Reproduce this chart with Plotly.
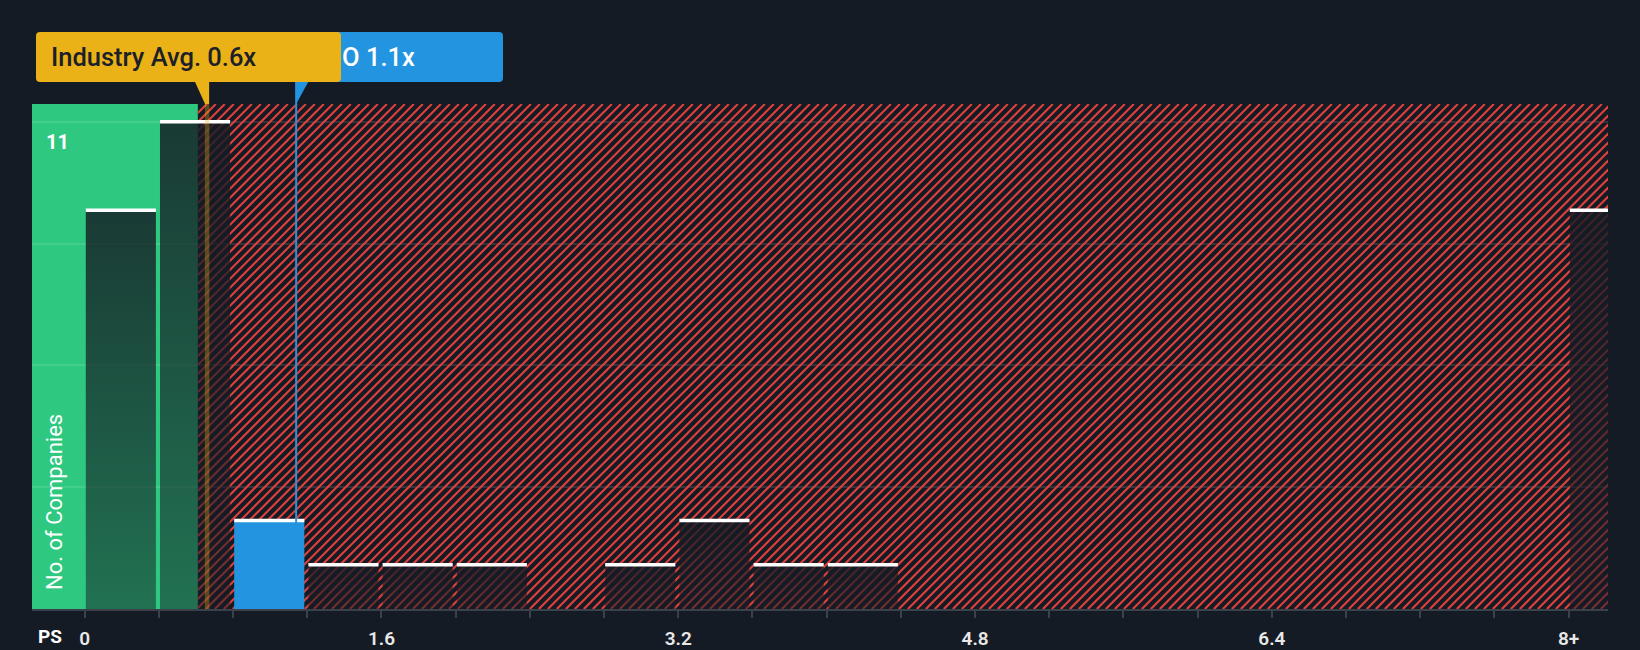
import plotly.graph_objects as go

# price-to-sales distribution of the industry peers
bin_start = [0.0, 0.4, 0.8, 1.2, 1.6, 2.0, 2.4, 2.8, 3.2, 3.6, 4.0, 8.0]
companies = [9, 11, 2, 1, 1, 1, 0, 1, 2, 1, 1, 9]
company_bin = 0.8
company_ps = 1.14
industry_avg = 0.66
fair_zone_end = 0.61

x_tick_vals = [0.0, 1.6, 3.2, 4.8, 6.4, 8.0]
x_tick_text = ["0", "1.6", "3.2", "4.8", "6.4", "8+"]
y_grid_vals = [2.75, 5.5, 8.25, 11]

company_label = "O 1.1x"
industry_label = "Industry Avg. 0.6x"

# page geometry
W, H = 1640, 650
L, R, T, B = 32, 32, 104, 41
PW = W - L - R
PH = H - T - B
X_MIN, X_MAX = -0.284, 8.212
Y_MAX = 11.4
BAR_OFF, BAR_W = 0.006, 0.378
HATCH_GAP = 9  # px between hatch lines

BG = "#151b24"
GREEN = "#2ec880"
RED = "#e0403c"
YELLOW = "#eab217"
BLUE = "#2394df"
FONT = "Roboto"


def px(x):
    return (x - L) / PW


def py(y):
    return (H - B - y) / PH


def rounded_box(x0, y0, x1, y1, r=4):
    pts = [
        ("M", x0 + r, y0), ("L", x1 - r, y0), ("Q", x1, y0, x1, y0 + r),
        ("L", x1, y1 - r), ("Q", x1, y1, x1 - r, y1), ("L", x0 + r, y1),
        ("Q", x0, y1, x0, y1 - r), ("L", x0, y0 + r), ("Q", x0, y0, x0 + r, y0),
    ]
    out = []
    for p in pts:
        coords = p[1:]
        conv = []
        for i in range(0, len(coords), 2):
            conv.append(f"{px(coords[i]):.5f},{py(coords[i + 1]):.5f}")
        out.append(p[0] + " " + " ".join(conv))
    return " ".join(out) + " Z"


fig = go.Figure()

# hatched "overvalued" zone, 45 degree lines on screen
kx = (X_MAX - X_MIN) / PW
ky = Y_MAX / PH
hx, hy = [], []
c = fair_zone_end - PH * kx
while c < X_MAX + 0.1:
    t0 = max(0.0, (fair_zone_end - c) / kx)
    hx += [c + t0 * kx, c + PH * kx, None]
    hy += [t0 * ky, PH * ky, None]
    c += HATCH_GAP * kx
fig.add_trace(go.Scatter(
    x=hx, y=hy, mode="lines", line=dict(color=RED, width=2.1),
    hoverinfo="skip", showlegend=False,
))

# histogram bars
cap_x, cap_y = [], []
for s, n in zip(bin_start, companies):
    if n == 0:
        continue
    x0, x1 = s + BAR_OFF, s + BAR_OFF + BAR_W
    is_company = abs(s - company_bin) < 1e-9
    bar = dict(
        x=[x0, x1, x1, x0, x0], y=[0, 0, n, n, 0],
        mode="none", fill="toself", hoverinfo="skip", showlegend=False,
    )
    if is_company:
        fig.add_trace(go.Scatter(fillcolor=BLUE, **bar))
    else:
        fig.add_trace(go.Scatter(
            fillgradient=dict(type="vertical", colorscale=[
                [0, "rgba(21,27,36,0.5)"], [1, "rgba(21,27,36,0.82)"]]),
            **bar))
    cap_x += [x0, x1, None]
    cap_y += [n, n, None]

fig.add_trace(go.Scatter(
    x=cap_x, y=cap_y, mode="lines", line=dict(color="white", width=3.5),
    hoverinfo="skip", showlegend=False,
))

shapes = [
    dict(type="rect", xref="x", yref="paper", x0=X_MIN - 0.1, x1=fair_zone_end, y0=0, y1=1,
         fillcolor=GREEN, line=dict(width=0), layer="below"),
    dict(type="line", xref="x", yref="paper", x0=industry_avg, x1=industry_avg, y0=0, y1=1,
         line=dict(color="rgba(234,178,23,0.32)", width=4.5)),
    dict(type="line", xref="x", yref="paper", x0=company_ps, x1=company_ps, y0=0, y1=py(82),
         line=dict(color=BLUE, width=2)),
    # pointers under the labels
    dict(type="path", xref="x", yref="paper", fillcolor=BLUE, line=dict(width=0),
         path=f"M {company_ps - 0.003},{py(82)} L {company_ps + 0.065},{py(82)} "
              f"L {company_ps},{py(104)} Z"),
    dict(type="path", xref="paper", yref="paper", fillcolor=BLUE, line=dict(width=0),
         path=rounded_box(200, 32, 503, 82)),
    dict(type="path", xref="x", yref="paper", fillcolor=YELLOW, line=dict(width=0),
         path=f"M {industry_avg - 0.065},{py(82)} L {industry_avg + 0.011},{py(82)} "
              f"L {industry_avg + 0.011},{py(104)} L {industry_avg - 0.011},{py(104)} Z"),
    dict(type="path", xref="paper", yref="paper", fillcolor=YELLOW, line=dict(width=0),
         path=rounded_box(36, 32, 341, 82)),
]

annotations = [
    dict(text=industry_label, xref="paper", yref="paper", x=px(49), y=py(57),
         xanchor="left", yanchor="middle", showarrow=False,
         font=dict(family=FONT, size=25.5, color="#1b2029", weight=500)),
    dict(text=company_label, xref="paper", yref="paper", x=px(340), y=py(57),
         xanchor="left", yanchor="middle", showarrow=False,
         font=dict(family=FONT, size=25.5, color="white", weight=500)),
    dict(text="11", xref="paper", yref="y", x=px(44), y=11, yshift=-6,
         xanchor="left", yanchor="top", showarrow=False,
         font=dict(family=FONT, size=20, color="white", weight=700)),
    dict(text="No. of Companies", xref="paper", yref="paper", x=px(54), y=py(592),
         xanchor="center", yanchor="bottom", textangle=-90, showarrow=False,
         font=dict(family=FONT, size=22, color="white")),
    dict(text="PS", xref="paper", yref="paper", x=px(36), y=py(636),
         xanchor="left", yanchor="middle", showarrow=False,
         font=dict(family=FONT, size=19, color="white", weight=700)),
]

fig.update_layout(
    width=W, height=H,
    margin=dict(l=L, r=R, t=T, b=B),
    paper_bgcolor=BG, plot_bgcolor=BG,
    shapes=shapes, annotations=annotations,
    showlegend=False,
    xaxis=dict(
        range=[X_MIN, X_MAX], showgrid=False, zeroline=False, automargin=False,
        showline=True, linecolor="#3b414b", linewidth=2,
        tickmode="array", tickvals=x_tick_vals, ticktext=x_tick_text,
        ticks="outside", ticklen=7, tickwidth=2, tickcolor="#3b414b",
        ticklabelstandoff=4,
        tickfont=dict(family=FONT, size=19, color="#e8e8e8", weight=600),
        minor=dict(tick0=0, dtick=0.4, ticks="outside", ticklen=7, tickwidth=2,
                   tickcolor="#3b414b", showgrid=False),
        fixedrange=True,
    ),
    yaxis=dict(
        range=[0, Y_MAX], showticklabels=False, zeroline=False, automargin=False,
        tickmode="array", tickvals=y_grid_vals, ticks="",
        showgrid=True, gridcolor="rgba(255,255,255,0.11)", gridwidth=1.5,
        fixedrange=True,
    ),
)

fig.write_html("out.html", config={"displayModeBar": False},
               post_script="document.body.style.margin='0';")
